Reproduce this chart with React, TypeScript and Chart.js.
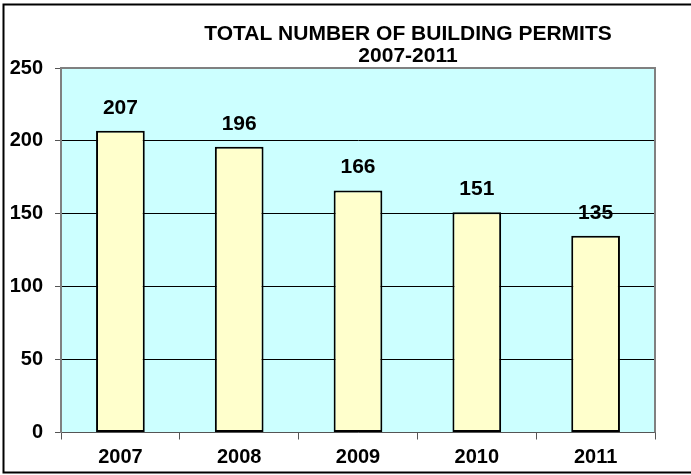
import React, { useEffect, useRef } from "react";
import { Chart, registerables } from "chart.js";

Chart.register(...registerables);

const categories = ["2007", "2008", "2009", "2010", "2011"];
const permits = [207, 196, 166, 151, 135];
const titleLines = ["TOTAL NUMBER OF BUILDING PERMITS", "2007-2011"];
const yMin = 0;
const yMax = 250;
const yStep = 50;

const FONT = "'Liberation Sans', Arial, sans-serif";

export default function App() {
  const ref = useRef<HTMLCanvasElement | null>(null);

  useEffect(() => {
    document.body.style.margin = "0";
    const canvas = ref.current;
    if (!canvas) return;

    const framePlugin = {
      id: "frame",
      beforeDraw(chart: any) {
        const { ctx, chartArea } = chart;
        ctx.save();
        ctx.fillStyle = "#ffffff";
        ctx.fillRect(0, 0, chart.width, chart.height);
        ctx.fillStyle = "#CCFFFF";
        ctx.fillRect(chartArea.left, chartArea.top, chartArea.right - chartArea.left, chartArea.bottom - chartArea.top);
        ctx.restore();
      },
      afterDatasetsDraw(chart: any) {
        const { ctx, chartArea } = chart;
        ctx.save();
        // plot border (gray)
        ctx.strokeStyle = "#808080";
        ctx.lineWidth = 2;
        ctx.beginPath();
        ctx.moveTo(chartArea.left, chartArea.top);
        ctx.lineTo(chartArea.right, chartArea.top);
        ctx.lineTo(chartArea.right, chartArea.bottom);
        ctx.stroke();
        // value labels
        const meta = chart.getDatasetMeta(0);
        ctx.fillStyle = "#000";
        ctx.font = `bold 21px ${FONT}`;
        ctx.textAlign = "center";
        ctx.textBaseline = "alphabetic";
        meta.data.forEach((bar: any, i: number) => {
          ctx.fillText(String(chart.data.datasets[0].data[i]), bar.x, bar.y - 17);
        });
        // title
        ctx.font = `bold 21px ${FONT}`;
        ctx.fillText(titleLines[0], 408, 40);
        ctx.fillText(titleLines[1], 408, 62);
        // outer border
        ctx.strokeStyle = "#000";
        ctx.lineWidth = 2;
        ctx.strokeRect(3.5, 4.5, 720, 468);
        ctx.restore();
      },
    };

    const chart = new Chart(canvas, {
      type: "bar",
      data: {
        labels: categories,
        datasets: [
          {
            data: permits,
            backgroundColor: "#FFFFCC",
            borderColor: "#000000",
            borderWidth: 2,
            borderSkipped: false,
            categoryPercentage: 1,
            barPercentage: 0.41,
          },
        ],
      },
      options: {
        responsive: false,
        animation: false,
        layout: { padding: { top: 68, right: 36, left: 0, bottom: 0 } },
        plugins: {
          legend: { display: false },
          title: { display: false },
          tooltip: { enabled: false },
        },
        scales: {
          x: {
            grid: {
              display: true,
              drawOnChartArea: false,
              drawTicks: true,
              tickLength: 7,
              color: "#555555",
              offset: true,
            },
            border: { display: true, color: "#555555", width: 1 },
            ticks: {
              color: "#000",
              font: { family: FONT, size: 20, weight: "bold" },
              padding: 6,
            },
            afterFit(scale: any) {
              scale.height = 42.5;
            },
          },
          y: {
            min: yMin,
            max: yMax,
            ticks: {
              stepSize: yStep,
              color: "#000",
              font: { family: FONT, size: 20, weight: "bold" },
              padding: 12,
            },
            grid: {
              color: (c: any) => (c.tick && (c.tick.value === yMin || c.tick.value === yMax) ? "#808080" : "#000000"),
              tickColor: "#555555",
              tickLength: 6,
              lineWidth: 1,
            },
            border: { display: true, color: "#808080", width: 2 },
            afterFit(scale: any) {
              scale.width = 61;
            },
          },
        },
      },
      plugins: [framePlugin],
    });

    return () => chart.destroy();
  }, []);

  return (
    <div style={{ width: 691, height: 475 }}>
      <canvas ref={ref} width={691} height={475} />
    </div>
  );
}
